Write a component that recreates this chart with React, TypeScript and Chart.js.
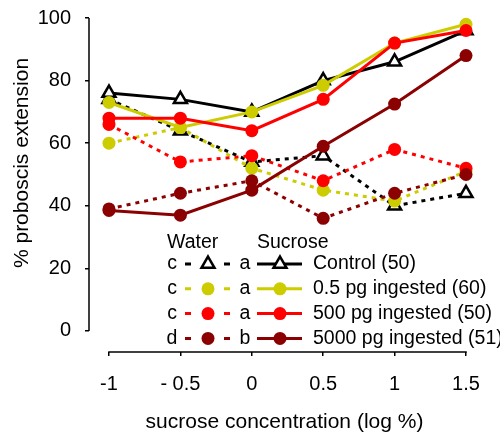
import React, { useEffect, useRef } from "react";
import { Chart, registerables } from "chart.js";
import { drawPoint } from "chart.js/helpers";

Chart.register(...registerables);

const concentrations = [-1, -0.5, 0, 0.5, 1, 1.5];
const xTickLabels = ["-1", "- 0.5", "0", "0.5", "1", "1.5"];
const yTickValues = [0, 20, 40, 60, 80, 100];

const controlSucrose = [76, 74, 70, 80, 86, 96];
const controlWater = [74, 64, 54, 56, 40, 44];
const pg05Sucrose = [73, 65, 70, 78.5, 92, 98];
const pg05Water = [60, 65, 52, 45, 41.5, 51];
const pg500Sucrose = [68, 68, 64, 74, 92, 96];
const pg500Water = [66, 54, 56, 48, 58, 52];
const pg5000Sucrose = [38.5, 37, 45, 59, 72.5, 88];
const pg5000Water = [39, 44, 48, 36, 44, 50];

const groupNames = ["Control (50)", "0.5 pg ingested (60)", "500 pg ingested (50)", "5000 pg ingested (51)"];
const waterLetters = ["c", "c", "c", "d"];
const sucroseLetters = ["a", "a", "a", "b"];
const groupColors = ["#000000", "#cccc00", "#ff0000", "#8b0000"];
const groupStyles = ["triangle", "circle", "circle", "circle"];
const sucroseSeries = [controlSucrose, pg05Sucrose, pg500Sucrose, pg5000Sucrose];
const waterSeries = [controlWater, pg05Water, pg500Water, pg5000Water];

const yTitle = "% proboscis extension";
const xTitle = "sucrose concentration (log %)";
const FONT = '"Liberation Sans", Arial, sans-serif';

function pointOpts(g: number) {
  const tri = groupStyles[g] === "triangle";
  return {
    pointStyle: groupStyles[g],
    radius: tri ? 7.5 : 6.5,
    backgroundColor: tri ? "#ffffff" : groupColors[g],
    borderColor: groupColors[g],
    borderWidth: tri ? 2.5 : 0,
    rotation: 0,
  };
}

const customPlugin = {
  id: "customDecor",
  afterDraw(chart: any) {
    const ctx = chart.ctx;
    const xs = chart.scales.x;
    const ys = chart.scales.y;
    const area = chart.chartArea;
    ctx.save();
    ctx.strokeStyle = "#000";
    ctx.lineWidth = 1.5;
    ctx.beginPath();
    ctx.moveTo(area.left, ys.getPixelForValue(yTickValues[0]));
    ctx.lineTo(area.left, ys.getPixelForValue(yTickValues[yTickValues.length - 1]));
    ctx.stroke();
    ctx.beginPath();
    ctx.moveTo(xs.getPixelForValue(concentrations[0]) - 0.75, area.bottom);
    ctx.lineTo(xs.getPixelForValue(concentrations[concentrations.length - 1]) + 0.75, area.bottom);
    ctx.stroke();

    ctx.fillStyle = "#000";
    ctx.font = `21px ${FONT}`;
    ctx.textAlign = "center";
    ctx.textBaseline = "middle";
    ctx.save();
    ctx.translate(22, 163);
    ctx.rotate(-Math.PI / 2);
    ctx.fillText(yTitle, 0, 0);
    ctx.restore();

    // legend
    ctx.font = `19.5px ${FONT}`;
    ctx.textAlign = "left";
    ctx.fillText("Water", 167, 243);
    ctx.fillText("Sucrose", 257, 243);
    for (let g = 0; g < groupNames.length; g++) {
      const y = 264 + g * 24.8;
      ctx.fillStyle = "#000";
      ctx.textAlign = "center";
      ctx.fillText(waterLetters[g], 172, y);
      ctx.fillText(sucroseLetters[g], 245, y);
      ctx.textAlign = "left";
      ctx.fillText(groupNames[g], 313, y);
      ctx.strokeStyle = groupColors[g];
      ctx.lineWidth = 3;
      ctx.beginPath();
      ctx.moveTo(185, y);
      ctx.lineTo(191, y);
      ctx.moveTo(224, y);
      ctx.lineTo(230, y);
      ctx.moveTo(257, y);
      ctx.lineTo(302, y);
      ctx.stroke();
      const po = pointOpts(g);
      ctx.fillStyle = po.backgroundColor;
      ctx.strokeStyle = po.borderColor;
      ctx.lineWidth = po.borderWidth;
      drawPoint(ctx, po as any, 208, y);
      ctx.fillStyle = po.backgroundColor;
      ctx.strokeStyle = po.borderColor;
      ctx.lineWidth = po.borderWidth;
      drawPoint(ctx, po as any, 280, y);
    }
    ctx.restore();
  },
};

export default function App() {
  const ref = useRef<HTMLCanvasElement | null>(null);
  useEffect(() => {
    if (!ref.current) return;
    const datasets: any[] = [];
    for (let g = groupNames.length - 1; g >= 0; g--) {
      const po = pointOpts(g);
      const base = {
        borderColor: groupColors[g],
        backgroundColor: groupColors[g],
        borderWidth: 3,
        pointStyle: po.pointStyle,
        pointRadius: po.radius,
        pointHoverRadius: po.radius,
        pointBackgroundColor: po.backgroundColor,
        pointBorderColor: po.borderColor,
        pointBorderWidth: po.borderWidth,
        tension: 0,
        clip: false,
        fill: false,
      };
      datasets.push({
        ...base,
        label: groupNames[g] + " sucrose",
        data: concentrations.map((x, i) => ({ x, y: sucroseSeries[g][i] })),
      });
      datasets.push({
        ...base,
        label: groupNames[g] + " water",
        borderDash: [4, 5],
        data: concentrations.map((x, i) => ({ x, y: waterSeries[g][i] })),
      });
    }
    const chart = new Chart(ref.current, {
      type: "line",
      data: { datasets },
      options: {
        responsive: false,
        animation: false,
        layout: { autoPadding: false, padding: { top: 18, right: 20, left: 0, bottom: 0 } },
        plugins: { legend: { display: false }, tooltip: { enabled: false } },
        scales: {
          x: {
            type: "linear",
            min: -1.14,
            max: 1.598,
            afterBuildTicks: (s: any) => {
              s.ticks = concentrations.map((v) => ({ value: v }));
            },
            afterFit: (s: any) => {
              s.height = 84;
            },
            ticks: {
              callback: (v: any) => xTickLabels[concentrations.indexOf(Number(v))],
              font: { size: 20, family: FONT },
              color: "#000",
              padding: 16.5,
              maxRotation: 0,
              autoSkip: false,
            },
            grid: { drawOnChartArea: false, drawTicks: true, tickLength: 4, color: "#000", lineWidth: 1.5 },
            border: { display: false },
            title: {
              display: true,
              text: xTitle,
              font: { size: 21, family: FONT },
              color: "#000",
              padding: { top: 0, bottom: 1 },
            },
          },
          y: {
            type: "linear",
            min: -6.72,
            max: 100,
            afterBuildTicks: (s: any) => {
              s.ticks = yTickValues.map((v) => ({ value: v }));
            },
            afterFit: (s: any) => {
              s.width = 89;
              s.paddingTop = 0;
              s.paddingBottom = 0;
            },
            ticks: {
              font: { size: 20, family: FONT, lineHeight: 0.7 },
              color: "#000",
              padding: 14,
            },
            grid: { drawOnChartArea: false, drawTicks: true, tickLength: 4, color: "#000", lineWidth: 1.5 },
            border: { display: false },
          },
        },
      },
      plugins: [customPlugin],
    });
    return () => chart.destroy();
  }, []);
  return (
    <div style={{ position: "absolute", left: 0, top: 0, width: 500, height: 436, background: "#fff" }}>
      <canvas ref={ref} width={500} height={436} />
    </div>
  );
}
